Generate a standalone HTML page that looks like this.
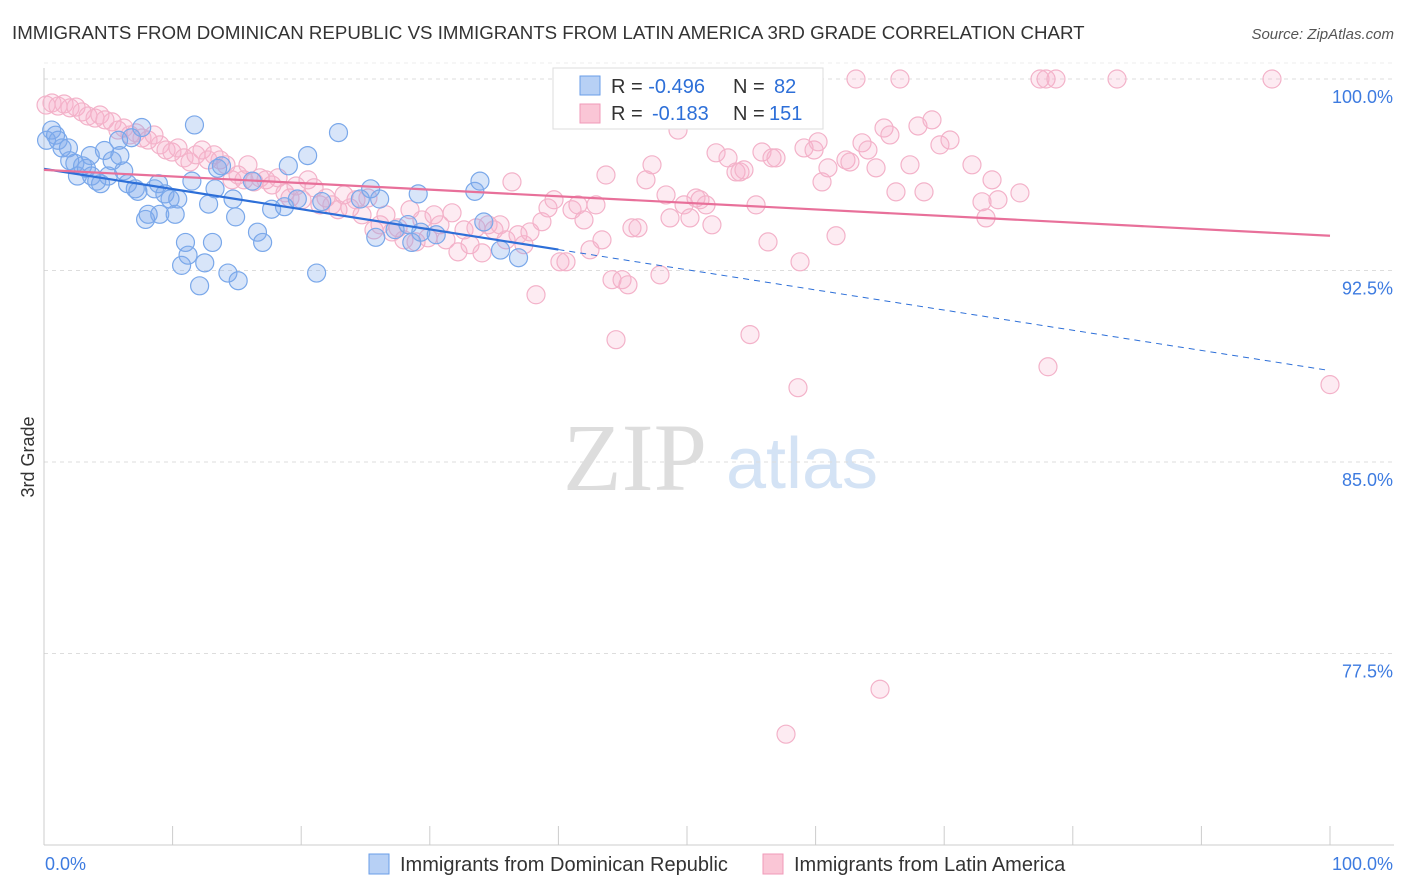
<!DOCTYPE html>
<html><head><meta charset="utf-8">
<style>
body{margin:0;background:#fff;font-family:"Liberation Sans",sans-serif;}
#wrap{position:relative;width:1406px;height:892px;overflow:hidden;}
</style></head>
<body>
<div id="wrap">
<svg id="chart" width="1406" height="892">
<text x="12" y="39" font-size="18.7" fill="#333">IMMIGRANTS FROM DOMINICAN REPUBLIC VS IMMIGRANTS FROM LATIN AMERICA 3RD GRADE CORRELATION CHART</text>
<text x="1394" y="39" font-size="15" fill="#555" text-anchor="end" font-style="italic">Source: ZipAtlas.com</text>
<text x="34" y="457" font-size="18" fill="#333" text-anchor="middle" transform="rotate(-90 34 457)">3rd Grade</text>
<g>
<text x="635" y="490" font-size="96" fill="#ddd" text-anchor="middle" font-family="Liberation Serif,serif">ZIP</text>
<text x="802" y="488" font-size="72" fill="#d4e3f5" text-anchor="middle">atlas</text>
</g>
<g id="grid"></g><g id="axes"></g><g id="pts"></g><g id="trend"></g>
<g>
<rect x="553" y="68" width="270" height="61" fill="#fff" stroke="#ddd"/>
<rect x="580" y="76" width="20" height="19" fill="#b7d0f5" stroke="#6a9ee8"/>
<rect x="580" y="104" width="20" height="19" fill="#fac6d6" stroke="#f09ab8"/>
<text x="611" y="93" font-size="20" fill="#333">R = <tspan fill="#2d6fd8">-0.496</tspan><tspan x="733">N = </tspan><tspan fill="#2d6fd8" x="774">82</tspan></text>
<text x="611" y="120" font-size="20" fill="#333">R = <tspan fill="#2d6fd8" x="652">-0.183</tspan><tspan x="733">N = </tspan><tspan fill="#2d6fd8" x="769">151</tspan></text>
</g>
<g>
<rect x="369" y="854" width="20" height="20" fill="#b7d0f5" stroke="#6a9ee8"/>
<text x="400" y="871" font-size="20" fill="#333">Immigrants from Dominican Republic</text>
<rect x="763" y="854" width="20" height="20" fill="#fac6d6" stroke="#f09ab8"/>
<text x="794" y="871" font-size="20" fill="#333">Immigrants from Latin America</text>
</g>
</svg>
</div>
<script>
const yTicks=[100,92.5,85,77.5];
const yTickLabels=["100.0%","92.5%","85.0%","77.5%"];
const xTicks=[0,10,20,30,40,50,60,70,80,90,100];
const blueX=[0.2,0.6,0.9,1.1,1.4,1.9,2.0,2.4,2.6,3.0,3.3,3.6,3.7,4.1,4.4,4.7,5.0,5.3,5.8,5.9,6.2,6.5,6.8,7.1,7.3,7.6,7.9,8.1,8.6,8.9,9.0,9.4,9.8,10.2,10.4,10.7,11.0,11.2,11.5,11.7,12.1,12.5,12.8,13.1,13.3,13.5,13.8,14.3,14.7,14.9,15.1,16.2,16.6,17.0,17.7,18.7,19.0,19.7,20.5,21.2,21.6,22.9,24.6,25.4,25.8,26.1,27.3,28.3,28.6,29.1,29.3,30.5,33.5,33.9,34.2,35.5,36.9];
const blueY=[97.6,98.0,97.8,97.6,97.3,97.3,96.8,96.7,96.2,96.6,96.5,97.0,96.2,96.0,95.9,97.2,96.2,96.8,97.6,97.0,96.4,95.9,97.7,95.7,95.6,98.1,94.5,94.7,95.7,95.9,94.7,95.5,95.3,94.7,95.3,92.7,93.6,93.1,96.0,98.2,91.9,92.8,95.1,93.6,95.7,96.5,96.6,92.4,95.3,94.6,92.1,96.0,94.0,93.6,94.9,95.0,96.6,95.3,97.0,92.4,95.2,97.9,95.3,95.7,93.8,95.3,94.1,94.3,93.6,95.5,94.0,93.9,95.6,96.0,94.4,93.3,93.0];
const pinkX=[0.16,0.62,1.09,1.56,2.02,2.49,2.95,3.42,3.97,4.35,4.74,5.29,5.75,6.22,6.69,7.15,7.62,8.09,8.55,9.02,9.49,9.95,10.42,10.89,11.35,11.82,12.29,12.75,13.22,13.69,14.15,14.62,15.09,15.55,15.86,16.33,16.80,17.26,17.73,18.20,18.74,19.13,19.60,20.06,20.53,21.00,21.46,21.93,22.39,22.86,23.33,23.79,24.26,24.73,25.19,25.66,26.13,26.59,27.06,27.53,27.99,28.46,28.93,29.39,29.86,30.33,30.79,31.26,31.73,32.19,32.66,33.13,33.59,34.06,34.53,34.99,35.46,35.93,36.39,36.86,37.32,37.79,38.26,38.72,39.19,39.66,40.12,40.59,41.06,41.52,41.99,42.46,42.92,43.39,43.70,44.17,44.48,44.95,45.41,45.72,46.19,46.81,47.28,47.90,48.37,48.68,49.30,49.77,50.23,50.70,51.01,51.48,51.94,52.26,52.88,53.19,53.81,54.12,54.43,54.90,55.37,55.83,56.30,56.61,56.92,58.63,58.79,59.10,59.88,60.19,60.50,60.96,61.59,62.36,62.67,63.14,63.61,64.07,64.70,65.01,65.32,65.78,66.25,66.56,67.34,67.96,68.43,69.05,69.67,70.45,72.16,72.94,73.25,73.72,74.18,75.89,77.45,77.92,78.69,78.07,83.44,95.49,100,57.70];
const pinkY=[98.98,99.06,98.94,99.02,98.87,98.90,98.71,98.55,98.47,98.59,98.40,98.32,98.00,98.08,97.81,97.89,97.69,97.61,97.81,97.42,97.22,97.14,97.30,96.91,96.75,97.03,97.22,96.83,97.03,96.83,96.64,96.05,96.24,96.05,96.64,95.97,96.13,96.05,95.85,96.13,95.54,95.34,95.81,95.27,96.05,95.74,95.07,95.34,95.07,94.88,95.46,94.95,95.27,94.68,95.34,94.09,94.29,94.68,94.01,94.17,93.70,94.88,93.62,94.48,93.78,94.68,94.29,93.70,94.76,93.23,94.09,93.51,94.17,93.19,94.29,94.09,94.29,93.70,95.97,93.90,93.51,94.01,91.55,94.41,94.95,95.27,92.84,92.84,94.88,95.07,94.48,93.31,95.07,93.70,96.24,92.14,89.79,92.14,91.94,94.17,94.17,96.05,96.64,92.33,95.46,94.56,98.00,95.07,94.56,95.34,95.27,95.07,94.29,97.11,98.71,96.91,96.36,96.36,96.44,89.99,95.07,97.14,93.62,96.91,96.91,87.91,92.84,97.30,97.22,97.54,95.97,96.52,93.86,96.83,96.75,100,97.50,97.22,96.52,76.10,98.08,97.81,95.58,100,96.64,98.16,95.58,98.40,97.42,97.61,96.64,95.19,94.56,96.05,95.27,95.54,100,100,100,88.73,100,100,88.03,74.34];
const blueTrend=[96.48,88.58];
const pinkTrend=[96.44,93.86];
const X0=44,X1=1330,YT=79,YB=845,VMIN=70,VMAX=100;
const sx=v=>X0+(v/100)*(X1-X0);
const sy=v=>YT+(VMAX-v)/(VMAX-VMIN)*(YB-YT);
const NS="http://www.w3.org/2000/svg";
function mk(t,a,p){const e=document.createElementNS(NS,t);for(const k in a)e.setAttribute(k,a[k]);p.appendChild(e);return e;}
const gridG=document.getElementById('grid'),axesG=document.getElementById('axes'),ptsG=document.getElementById('pts'),trG=document.getElementById('trend');
yTicks.forEach((v,i)=>{
 const l=mk('line',{x1:X0,x2:1394,y1:sy(v),y2:sy(v),stroke:'#ddd','stroke-dasharray':'4,4'},gridG);
 
 
 const t=mk('text',{x:1393,y:sy(v)+24,'font-size':18,fill:'#3d7be0','text-anchor':'end'},axesG);
 t.textContent=yTickLabels[i];
 
 
});
const topLine=mk('line',{x1:X0,x2:1394,y1:63,y2:63,stroke:'#eee','stroke-dasharray':'4,4'},gridG);


const ya=mk('line',{x1:X0,x2:X0,y1:68,y2:YB,stroke:'#ccc'},axesG);


const xa=mk('line',{x1:X0,x2:1394,y1:YB,y2:YB,stroke:'#ccc'},axesG);


xTicks.forEach(v=>{
 const l=mk('line',{x1:sx(v),x2:sx(v),y1:826,y2:YB,stroke:'#ccc'},axesG);
 
 
});
const xl0=mk('text',{x:45,y:870,'font-size':18,fill:'#3d7be0'},axesG);xl0.textContent='0.0%';


const xl1=mk('text',{x:1393,y:870,'font-size':18,fill:'#3d7be0','text-anchor':'end'},axesG);xl1.textContent='100.0%';


pinkX.forEach((x,i)=>{
 const c=mk('circle',{cx:sx(x),cy:sy(pinkY[i]),r:9,fill:'rgba(248,175,202,0.25)',stroke:'#f3b2c9','stroke-width':1.2},ptsG);
 
 
});
blueX.forEach((x,i)=>{
 const c=mk('circle',{cx:sx(x),cy:sy(blueY[i]),r:9,fill:'rgba(125,168,235,0.3)',stroke:'#7aa8ea','stroke-width':1.2},ptsG);
 
 
});
const bAt=x=>blueTrend[0]+(blueTrend[1]-blueTrend[0])*x/100;
const b1=mk('line',{x1:sx(0),y1:sy(bAt(0)),x2:sx(40),y2:sy(bAt(40)),stroke:'#2d6fd8','stroke-width':2.2},trG);


const b2=mk('line',{x1:sx(40),y1:sy(bAt(40)),x2:sx(100),y2:sy(bAt(100)),stroke:'#2d6fd8','stroke-width':1,'stroke-dasharray':'6,5'},trG);


const p1=mk('line',{x1:sx(0),y1:sy(pinkTrend[0]),x2:sx(100),y2:sy(pinkTrend[1]),stroke:'#e8709a','stroke-width':2.2},trG);


</script>
</body></html>
